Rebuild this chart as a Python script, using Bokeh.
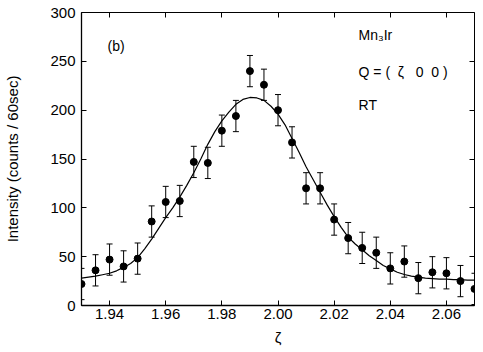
from bokeh.plotting import figure
from bokeh.models import (Range1d, LinearAxis, FixedTicker, Whisker, ColumnDataSource,
                          Label, TeeHead, CustomLabelingPolicy, AllLabels)
from bokeh.embed import file_html
from bokeh.resources import INLINE

# measured data
zeta = [1.930, 1.935, 1.940, 1.945, 1.950, 1.955, 1.960, 1.965, 1.970, 1.975,
        1.980, 1.985, 1.990, 1.995, 2.000, 2.005, 2.010, 2.015, 2.020, 2.025,
        2.030, 2.035, 2.040, 2.045, 2.050, 2.055, 2.060, 2.065, 2.070]
intensity = [22, 36, 47, 40, 48, 86, 106, 107, 147, 146,
             179, 194, 240, 226, 200, 167, 120, 120, 88, 69,
             59, 54, 38, 45, 28, 34, 33, 25, 17]
error = [16] * len(zeta)

# fitted curve
fit_zeta = [1.930, 1.9325, 1.935, 1.9375, 1.940, 1.9425, 1.945, 1.9475, 1.950, 1.9525,
            1.955, 1.9575, 1.960, 1.9625, 1.965, 1.9675, 1.970, 1.9725, 1.975, 1.9775,
            1.980, 1.9825, 1.985, 1.9875, 1.990, 1.9925, 1.995, 1.9975, 2.000, 2.0025,
            2.005, 2.0075, 2.010, 2.0125, 2.015, 2.0175, 2.020, 2.0225, 2.025, 2.0275,
            2.030, 2.0325, 2.035, 2.0375, 2.040, 2.0425, 2.045, 2.0475, 2.050, 2.0525,
            2.055, 2.0575, 2.060, 2.0625, 2.065, 2.0675, 2.070]
fit_intensity = [28, 29, 30, 31.5, 33, 35.5, 39, 43, 49, 58,
                 68, 79, 90, 100, 111, 123, 136, 150, 165, 178,
                 189, 198, 206, 211, 213, 212.5, 210, 204, 196, 185,
                 171, 157, 142, 129, 116, 103, 91, 80, 70, 63,
                 57, 51, 46, 41, 37.5, 34, 31.7, 30, 29, 28,
                 27.5, 27, 27, 26.5, 26.5, 26, 26]

x_ticks = [1.94, 1.96, 1.98, 2.00, 2.02, 2.04, 2.06]
y_ticks = [0, 50, 100, 150, 200, 250, 300]

FONT = "Liberation Sans"
NB = "\u00a0"

p = figure(frame_width=393, frame_height=293,
           min_border_left=81, min_border_right=9, min_border_top=12, min_border_bottom=47,
           x_range=Range1d(1.93, 2.07), y_range=Range1d(0, 300),
           output_backend="svg", toolbar_location=None, tools="")
p.grid.visible = False
p.outline_line_color = "black"
p.outline_line_width = 1
p.background_fill_color = "white"
p.border_fill_color = "white"

for ax in (p.xaxis[0], p.yaxis[0]):
    ax.major_tick_in = 5
    ax.major_tick_out = 0
    ax.minor_tick_in = 0
    ax.minor_tick_out = 0
    ax.axis_line_width = 1.3
    ax.major_tick_line_width = 1
    ax.major_label_text_font = FONT
    ax.major_label_text_font_size = "15px"
    ax.major_label_text_color = "black"
    ax.major_label_policy = AllLabels()
    ax.axis_label_text_font = FONT
    ax.axis_label_text_font_style = "normal"
    ax.axis_label_text_color = "black"

p.xaxis[0].ticker = FixedTicker(ticks=x_ticks)
p.xaxis[0].major_label_overrides = {t: f"{t:.2f}" for t in x_ticks}
p.xaxis[0].major_label_standoff = 3
p.xaxis[0].axis_label = "ζ"
p.xaxis[0].axis_label_text_font_size = "15px"
p.xaxis[0].axis_label_standoff = 7

p.yaxis[0].ticker = FixedTicker(ticks=y_ticks)
p.yaxis[0].major_label_standoff = 6
p.yaxis[0].axis_label = "Intensity (counts / 60sec)"
p.yaxis[0].axis_label_text_font_size = "15px"
p.yaxis[0].axis_label_standoff = 26

no_labels = CustomLabelingPolicy(
    code="const n = indices.size; for (let i = 0; i < n; i++) { indices.unset(i) } return indices")
top = LinearAxis(ticker=FixedTicker(ticks=x_ticks), major_tick_in=5, major_tick_out=0,
                 minor_tick_in=0, minor_tick_out=0, major_label_policy=no_labels,
                 major_label_standoff=0, axis_line_color=None)
right = LinearAxis(ticker=FixedTicker(ticks=y_ticks), major_tick_in=5, major_tick_out=0,
                   minor_tick_in=0, minor_tick_out=0, major_label_policy=no_labels,
                   major_label_standoff=0, axis_line_color=None)
p.add_layout(top, "above")
p.add_layout(right, "right")

src = ColumnDataSource(dict(x=zeta, y=intensity,
                            lo=[v - e for v, e in zip(intensity, error)],
                            hi=[v + e for v, e in zip(intensity, error)]))

p.line(fit_zeta, fit_intensity, line_color="black", line_width=1.2)

wh = Whisker(source=src, base="x", upper="hi", lower="lo", line_color="black", line_width=1,
             upper_head=TeeHead(size=6, line_color="black", line_width=1),
             lower_head=TeeHead(size=6, line_color="black", line_width=1))
p.add_layout(wh)
p.scatter("x", "y", source=src, size=7, fill_color="black", line_color="black")

q_text = "Q = (" + NB * 2 + "ζ" + NB * 3 + "0" + NB * 2 + "0" + NB + ")"
for txt, x, y in [("(b)", 1.9393, 266), ("Mn₃Ir", 2.0287, 276.5),
                  (q_text, 2.0287, 238.6), ("RT", 2.0287, 205.8)]:
    p.add_layout(Label(x=x, y=y, text=txt, text_font=FONT, text_font_size="14px",
                       text_color="black", text_baseline="middle", text_align="left"))

open("out.html", "w").write(file_html(p, INLINE))
